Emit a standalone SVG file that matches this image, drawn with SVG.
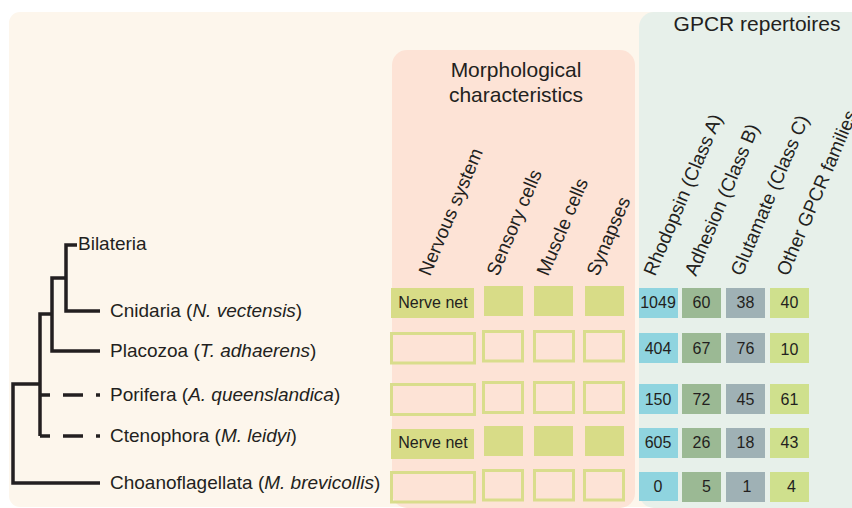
<svg xmlns="http://www.w3.org/2000/svg" width="852" height="508" viewBox="0 0 852 508">
<defs>
<style>
text{font-family:"Liberation Sans",Arial,sans-serif;fill:#231f20}
.sp{font-size:19px}
.hd{font-size:21px;text-anchor:middle}
.rl{font-size:19px}
.ct{font-size:16px;text-anchor:middle}
.br{fill:none;stroke:#231f20;stroke-width:3.5;stroke-linecap:butt;stroke-linejoin:miter}
.ds{stroke-dasharray:20 13;stroke-dashoffset:10}
.fill{fill:#d8dc87}
.out{fill:none;stroke:#d9dd8c;stroke-width:3}
.rho{fill:#8fd4df}
.adh{fill:#9bb994}
.glu{fill:#9fb1b5}
.oth{fill:#cfe08d}
</style>
</defs>
<rect x="0" y="0" width="852" height="508" fill="#ffffff"/>
<rect id="bg" x="9" y="12" width="870" height="495" rx="11" fill="#fdf6ec"/>
<rect id="morph-panel" x="392" y="50" width="243" height="458" rx="15" fill="#fde3d6"/>
<rect id="gpcr-panel" x="639" y="12" width="240" height="496" rx="15" fill="#e7f0ea"/>

<g id="headers">
<text class="hd" x="516" y="77">Morphological</text>
<text class="hd" x="516" y="101.5">characteristics</text>
<text class="hd" x="757" y="31">GPCR repertoires</text>
</g>

<g id="column-labels">
<text class="rl" transform="translate(430,277) rotate(-67)">Nervous system</text>
<text class="rl" transform="translate(498,277) rotate(-67)">Sensory cells</text>
<text class="rl" transform="translate(548,277) rotate(-67)">Muscle cells</text>
<text class="rl" transform="translate(598,277) rotate(-67)">Synapses</text>
<text class="rl" transform="translate(655,277) rotate(-67)">Rhodopsin (Class A)</text>
<text class="rl" transform="translate(696,277) rotate(-67)">Adhesion (Class B)</text>
<text class="rl" transform="translate(742,277) rotate(-67)">Glutamate (Class C)</text>
<text class="rl" transform="translate(788,277) rotate(-67)">Other GPCR families</text>
</g>

<g id="connectors">
<path class="br" d="M100,483 H13 V384 H40"/>
<path class="br" d="M52,314 H40 V436"/>
<path class="br ds" d="M40,395 H100"/>
<path class="br ds" d="M40,436 H100"/>
<path class="br" d="M65,278 H52 V351 H100"/>
<path class="br" d="M77,245 H66 V311 H100"/>
</g>

<g id="bilateria"><text class="sp" x="78" y="250">Bilateria</text></g>
<g id="cnidaria"><text class="sp" x="110" y="317">Cnidaria (<tspan font-style="italic">N. vectensis</tspan>)</text></g>
<g id="placozoa"><text class="sp" x="110" y="357">Placozoa (<tspan font-style="italic">T. adhaerens</tspan>)</text></g>
<g id="porifera"><text class="sp" x="110" y="401">Porifera (<tspan font-style="italic">A. queenslandica</tspan>)</text></g>
<g id="ctenophora"><text class="sp" x="110" y="442">Ctenophora (<tspan font-style="italic">M. leidyi</tspan>)</text></g>
<g id="choanoflagellata"><text class="sp" x="110" y="489">Choanoflagellata (<tspan font-style="italic">M. brevicollis</tspan>)</text></g>

<g id="morph-cnidaria">
<rect class="fill" x="391" y="288" width="83" height="30"/>
<text class="ct" x="433" y="308">Nerve net</text>
<rect class="fill" x="484" y="286" width="39" height="30"/>
<rect class="fill" x="534" y="286" width="39" height="30"/>
<rect class="fill" x="585" y="286" width="39" height="30"/>
</g>
<g id="morph-placozoa">
<rect class="out" x="391.5" y="333.5" width="83" height="29.5"/>
<rect class="out" x="483.5" y="331.5" width="39" height="29.5"/>
<rect class="out" x="534.5" y="331.5" width="39" height="29.5"/>
<rect class="out" x="584.5" y="331.5" width="39" height="29.5"/>
</g>
<g id="morph-porifera">
<rect class="out" x="391.5" y="384.5" width="83" height="30"/>
<rect class="out" x="483.5" y="382.5" width="39" height="30"/>
<rect class="out" x="534.5" y="382.5" width="39" height="30"/>
<rect class="out" x="584.5" y="382.5" width="39" height="30"/>
</g>
<g id="morph-ctenophora">
<rect class="fill" x="391" y="429" width="83" height="30"/>
<text class="ct" x="433" y="448">Nerve net</text>
<rect class="fill" x="484" y="426" width="39" height="30"/>
<rect class="fill" x="534" y="426" width="39" height="30"/>
<rect class="fill" x="585" y="426" width="39" height="30"/>
</g>
<g id="morph-choanoflagellata">
<rect class="out" x="391.5" y="472.5" width="83" height="29.5"/>
<rect class="out" x="483.5" y="470.5" width="39" height="29.5"/>
<rect class="out" x="534.5" y="470.5" width="39" height="29.5"/>
<rect class="out" x="584.5" y="470.5" width="39" height="29.5"/>
</g>

<g id="gpcr-cnidaria">
<rect class="rho" x="639" y="288" width="39" height="30"/><text class="ct" x="658" y="308">1049</text>
<rect class="adh" x="682" y="288" width="39" height="30"/><text class="ct" x="701.5" y="308">60</text>
<rect class="glu" x="726" y="288" width="39" height="30"/><text class="ct" x="745.5" y="308">38</text>
<rect class="oth" x="770" y="288" width="39" height="30"/><text class="ct" x="789.5" y="308">40</text>
</g>
<g id="gpcr-placozoa">
<rect class="rho" x="639" y="333" width="39" height="30"/><text class="ct" x="658" y="353.5">404</text>
<rect class="adh" x="682" y="333" width="39" height="30"/><text class="ct" x="701.5" y="353.5">67</text>
<rect class="glu" x="726" y="333" width="39" height="30"/><text class="ct" x="745.5" y="353.5">76</text>
<rect class="oth" x="770" y="333" width="39" height="30"/><text class="ct" x="789.5" y="354.5">10</text>
</g>
<g id="gpcr-porifera">
<rect class="rho" x="639" y="384" width="39" height="30"/><text class="ct" x="658" y="404.5">150</text>
<rect class="adh" x="682" y="384" width="39" height="30"/><text class="ct" x="701.5" y="404.5">72</text>
<rect class="glu" x="726" y="384" width="39" height="30"/><text class="ct" x="745.5" y="404.5">45</text>
<rect class="oth" x="770" y="384" width="39" height="30"/><text class="ct" x="789.5" y="404.5">61</text>
</g>
<g id="gpcr-ctenophora">
<rect class="rho" x="639" y="428" width="39" height="30"/><text class="ct" x="658" y="448">605</text>
<rect class="adh" x="682" y="428" width="39" height="30"/><text class="ct" x="701.5" y="448">26</text>
<rect class="glu" x="726" y="428" width="39" height="30"/><text class="ct" x="745.5" y="448">18</text>
<rect class="oth" x="770" y="428" width="39" height="30"/><text class="ct" x="789.5" y="448">43</text>
</g>
<g id="gpcr-choanoflagellata">
<rect class="rho" x="639" y="472" width="39" height="29"/><text class="ct" x="658" y="492">0</text>
<rect class="adh" x="682" y="472" width="39" height="30"/><text class="ct" x="706.5" y="492">5</text>
<rect class="glu" x="726" y="472" width="39" height="30"/><text class="ct" x="747" y="492">1</text>
<rect class="oth" x="770" y="472" width="39" height="30"/><text class="ct" x="791.5" y="492">4</text>
</g>
</svg>
